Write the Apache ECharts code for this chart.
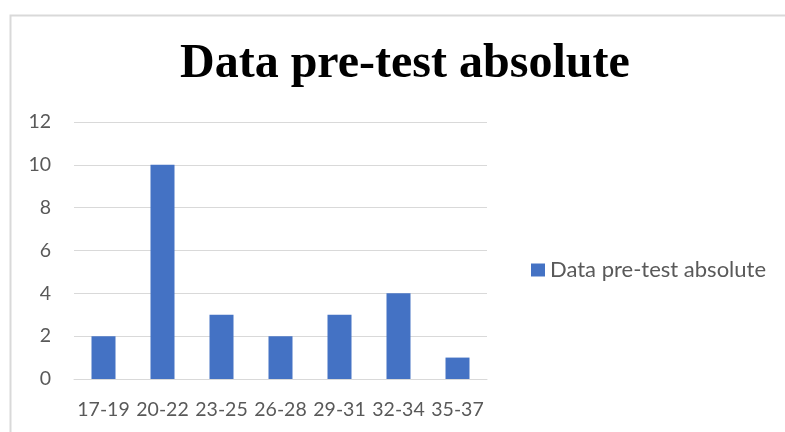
<!DOCTYPE html>
<html><head><meta charset="utf-8">
<script src="https://cdn.jsdelivr.net/npm/echarts@6/dist/echarts.min.js"></script>
<style>html,body{margin:0;padding:0;background:#fff}#c{width:785px;height:432px}</style>
</head><body><div id="c"></div>
<script>
const categories = ['17-19','20-22','23-25','26-28','29-31','32-34','35-37'];
const values = [2,10,3,2,3,4,1];
const seriesName = 'Data pre-test absolute';
const titleText = 'Data pre-test absolute';

const chart = echarts.init(document.getElementById('c'));
chart.setOption({
  animation: false,
  backgroundColor: '#fff',
  graphic: [{
    type: 'rect', shape: {x: 10.5, y: 15.5, width: 900, height: 600},
    style: {fill: 'none', stroke: '#d9d9d9', lineWidth: 2}, silent: true
  }],
  title: {
    text: titleText, left: 175, top: 36, itemGap: 0,
    textStyle: {fontFamily: 'Liberation Serif', fontWeight: 'bold', fontSize: 48, color: '#000'}
  },
  legend: {
    data: [seriesName], orient: 'vertical', left: 526, top: 254,
    icon: 'rect', itemWidth: 14, itemHeight: 13, itemGap: 6,
    textStyle: {fontFamily: 'Lato', fontSize: 22, color: '#595959'}
  },
  grid: {left: 74, top: 122, width: 413, height: 257, containLabel: false},
  xAxis: {
    type: 'category', data: categories,
    axisLine: {lineStyle: {color: '#d9d9d9', width: 1}},
    axisTick: {show: false},
    axisLabel: {fontFamily: 'Lato', fontSize: 19.5, color: '#595959', margin: 21, interval: 0}
  },
  yAxis: {
    type: 'value', min: 0, max: 12, interval: 2,
    axisLine: {show: false}, axisTick: {show: false},
    splitLine: {lineStyle: {color: '#d9d9d9', width: 1}},
    axisLabel: {fontFamily: 'Lato', fontSize: 19.5, color: '#595959', margin: 23}
  },
  series: [{
    name: seriesName, type: 'bar', data: values,
    barWidth: 24, itemStyle: {color: '#4472c4'}
  }]
});
</script></body></html>
